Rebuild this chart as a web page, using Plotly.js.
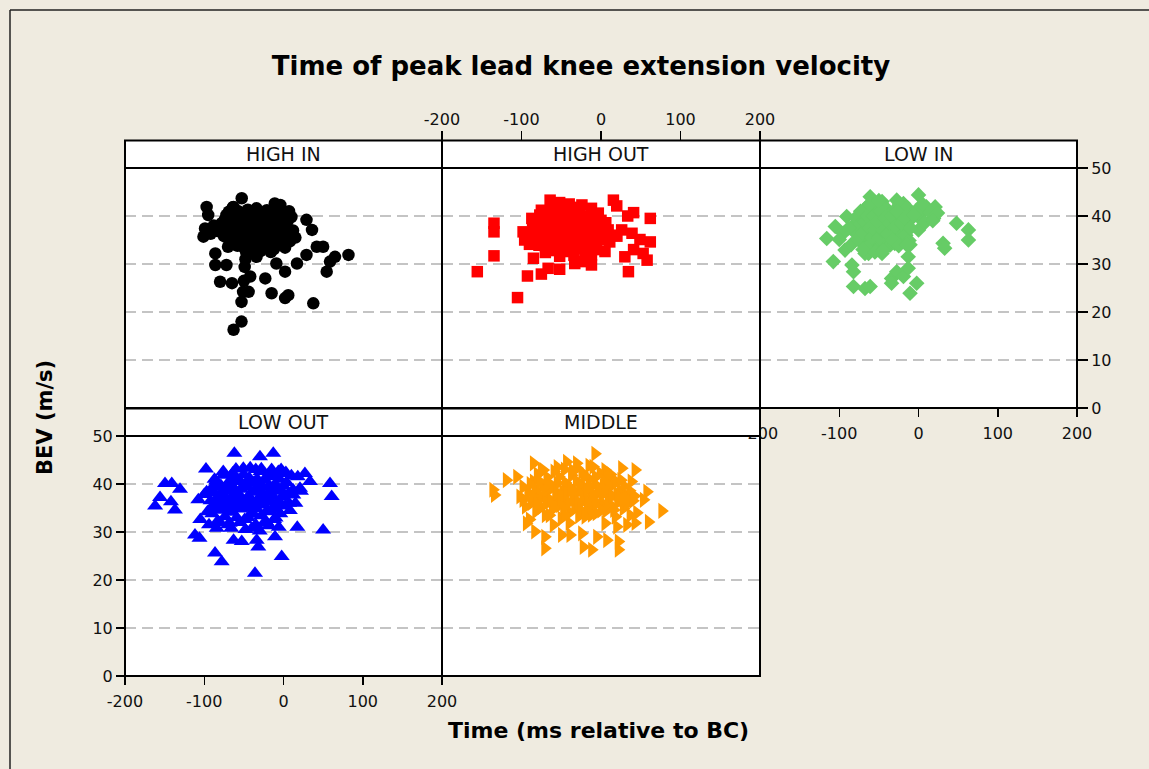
<!DOCTYPE html>
<html><head><meta charset="utf-8">
<script src="https://cdn.plot.ly/plotly-3.0.1.min.js"></script>
<style>html,body{margin:0;padding:0;background:#efebe0;} #chart{width:1149px;height:769px;}</style>
</head><body><div id="chart"></div>
<script>
// ---- data (time ms relative to BC, BEV m/s) ----
const panelNames = ["HIGH IN", "HIGH OUT", "LOW IN", "LOW OUT", "MIDDLE"];
const xTickVals = [-200, -100, 0, 100, 200];
const xTickLabels = ["-200", "-100", "0", "100", "200"];
const yTickVals = [0, 10, 20, 30, 40, 50];
const yTickLabels = ["0", "10", "20", "30", "40", "50"];

const highInPoints = [
 [-52.7,43.7],[-97,41.9],[-95,40.2],[-63,41.9],[-99,37.4],[-101,35.7],[-86,32.2],[-86,29.8],[-80,26.3],[-65,26],
 [-51,24.2],[-53,22.1],[-53,18],[-63,16.3],[-23,27],[-15,23.9],[2,22.9],[6,23.5],[37.6,21.8],[2,28.4],
 [-34,31.5],[54.5,28.4],[58.7,30.5],[65,31.5],[82,31.9],[42,33.6],[50,33.6],[29,31.9],[17,30.1],[29,39.2],
 [36,37.1],[-4,42.3],[-11,42.6],[-49,29.4],[-42,27.4],[-44,24.2],[-72,29.8],[-9,30.1],[-63,39.9],[-50,26.5],[-48,31],
 [-78,38.5],[-72,40.2],[-68,37.5],[-66,35.2],[-62,39.1],[-60,36.4],[-58,33.8],[-57,41.0],[-55,38.2],[-53,35.9],
 [-52,37.0],[-50,40.5],[-49,33.2],[-48,38.8],[-46,36.1],[-45,41.3],[-44,34.5],[-43,39.4],[-41,37.3],[-40,35.0],
 [-39,40.8],[-38,32.9],[-36,38.0],[-35,36.2],[-34,41.6],[-33,34.0],[-31,39.7],[-30,37.6],[-28,35.4],[-27,40.1],
 [-26,33.5],[-24,38.3],[-23,36.7],[-21,41.2],[-20,34.8],[-18,39.0],[-17,37.1],[-15,35.6],[-14,40.6],[-12,33.1],
 [-11,38.6],[-9,36.5],[-8,41.5],[-6,34.3],[-5,39.3],[-3,37.4],[-1,35.1],[1,40.0],[3,36.8],[5,38.9],
 [8,34.7],[10,39.8],[12,37.0],[15,35.5],[-75,35.8],[-70,33.6],[-64,41.8],[-47,32.4],[-29,32.7],[-16,32.5],
 [2,33.4],[-82,36.8],[-88,38.0],[-92,36.3],
 [-77,36.9],[-74,39.3],[-71,37.2],[-69,40.9],[-67,34.1],[-65,38.4],[-61,37.7],[-59,40.1],[-56,35.0],[-54,39.7],
 [-51,38.9],[-47,40.0],[-42,36.4],[-37,39.2],[-32,36.7],[-29,38.8],[-25,40.7],[-22,37.8],[-19,36.1],[-13,38.0],
 [-7,37.9],[-2,38.4],[4,35.8],[7,41.0],[11,36.2],[-58,35.7],[-44,32.9]
];

const highOutPoints = [
 [-155.6,28.4],[-134.6,38.5],[-134.6,36.7],[-134.6,31.7],[-105,23],[-92.5,27.5],[-75,27.9],[-66.5,29.1],[-85,31.2],[-52,28.9],
 [-33,30.1],[-12,29.8],[34.5,28.4],[30,31.5],[41,33],[58,30.8],[53,32.2],[62,34.6],[49,35.1],[39,36.4],
 [62,39.5],[41,40.7],[33.6,40],[15.6,43.3],[19.8,42.1],[9,37.1],[11,34.6],[26,37.1],[-7.6,34.3],[-98,36.7],
 [-96,35],[-64,43.3],[-52,42.8],[-24,42.3],[-12,41.6],[-3.4,40.6],[-87,39.5],[-77,40.2],[-12,31.9],[-24,30.5],
 [-85,37.8],[-82,35.6],[-80,39.2],[-78,33.9],[-76,36.8],[-74,40.5],[-72,34.6],[-70,38.1],[-68,36.0],[-66,41.0],
 [-65,32.8],[-63,39.6],[-61,35.2],[-60,37.4],[-58,33.6],[-56,40.3],[-55,36.5],[-53,38.7],[-51,34.3],[-50,41.5],
 [-48,37.0],[-47,35.5],[-45,39.8],[-44,32.6],[-42,38.2],[-41,36.1],[-39,40.7],[-38,34.0],[-36,37.6],[-35,35.1],
 [-33,39.1],[-32,33.2],[-30,38.0],[-29,36.3],[-27,40.2],[-26,34.8],[-24,37.3],[-23,35.7],[-21,39.4],[-20,33.5],
 [-18,38.5],[-17,36.6],[-15,40.0],[-14,34.5],[-12,37.8],[-10,35.9],[-8,39.0],[-6,33.0],[-4,36.9],[-2,38.4],
 [1,35.3],[3,37.2],[-88,36.2],[-90,34.1],[-58,42.0],[-40,42.5],[-34,31.8],[-52,31.6],[5,32.6],[14,36.0],[20,35.8],
 [-86,39.0],[-83,37.0],[-81,34.8],[-79,36.5],[-77,38.9],[-75,41.2],[-73,37.1],[-71,35.8],[-69,39.6],[-67,37.9],
 [-64,34.9],[-62,36.6],[-59,38.8],[-57,35.9],[-54,37.8],[-52,39.6],[-49,35.0],[-46,38.1],[-43,36.9],[-40,39.0],
 [-37,35.6],[-34,38.6],[-31,36.8],[-28,39.3],[-25,36.0],[-22,38.2],[-19,35.2],[-16,37.3],[-13,39.2],[-11,36.5],
 [-7,37.6],[-3,35.0],[0,39.1],[-62,42.6],[-46,42.1],[-28,41.8],[-55,33.4],[-37,32.9],[-20,32.2],[-70,32.4],
 [6,38.6],[10,35.7]
];

const lowInPoints = [
 [-115.8,35.3],[-105,37.8],[-92.7,32.9],[-107.5,30.5],[-84,29.8],[-82,28.4],[-82,25.3],[-67.5,24.9],[-61,25.3],[-63,32.2],
 [-46,32.2],[-34,27],[-27.5,28.4],[-34,26],[-19,27.4],[-13,31.5],[-13,29.1],[-10.7,23.9],[-2.3,26],[-10.7,34],
 [0,37.1],[31,34.3],[33,33.3],[48,38.5],[63,37.1],[63,35],[0,44.4],[-61,44],[10,41.9],[21,41.9],
 [19,39.5],[6,38.8],[-23,37.1],[-90.6,39.9],[-27.5,43.3],[-19,42.6],[-67.5,32.2],[-40,36],[-46,43],
 [-80,38.4],[-78,36.2],[-76,40.1],[-74,34.8],[-72,37.6],[-70,39.5],[-69,35.7],[-67,41.6],[-66,33.6],[-64,38.0],
 [-63,36.4],[-61,40.7],[-60,34.2],[-58,42.3],[-57,37.2],[-56,39.0],[-54,35.4],[-53,41.2],[-51,33.0],[-50,37.9],
 [-49,36.1],[-47,39.8],[-46,34.6],[-44,38.5],[-43,42.0],[-41,35.8],[-40,37.3],[-38,40.3],[-36,33.9],[-35,38.9],
 [-33,36.6],[-31,41.1],[-30,34.3],[-28,39.3],[-26,37.0],[-24,42.5],[-22,35.2],[-20,40.0],[-18,38.1],[-16,36.0],
 [-14,41.7],[-12,34.9],[-8,39.6],[-4,41.0],[2,40.4],[8,38.6],[14,40.8],[24,40.6],[-85,34.0],[-95,36.4],[-100,35.1],
 [-82,37.0],[-79,39.6],[-77,35.2],[-75,38.0],[-73,41.0],[-71,36.5],[-68,38.8],[-65,40.0],[-62,37.5],[-59,35.5],
 [-57,40.0],[-55,37.0],[-52,38.9],[-50,35.5],[-48,41.0],[-45,37.0],[-42,39.5],[-39,36.3],[-37,38.5],[-34,40.0],
 [-32,35.0],[-29,37.8],[-27,40.9],[-25,33.8],[-21,38.5],[-17,39.6],[-15,34.0],[-10,37.5],[-6,40.2],[-70,33.0],
 [-55,32.5],[-45,32.8],[-62,42.5],[-50,43.2],[5,42.5],[18,39.0],[-88,37.5]
];

const lowOutPoints = [
 [-62,46.4],[-29.7,45.7],[-12.9,46.4],[-97.8,43.1],[-149.5,40.1],[-141,40.1],[-130.6,38.9],[-155.8,37.2],[-162,35.4],[-142,36.3],
 [-137,34.6],[58.7,40.1],[60.8,37.4],[50,30.4],[17.4,31],[-2.3,24.9],[-36,21.4],[-86.4,25.6],[-78,23.8],[-111.7,29.4],
 [-106,28.7],[-105,32.6],[-63,28.3],[-52.7,28],[-31.8,26.9],[-33.8,28.3],[-10.7,29],[27,42.2],[33.4,40.5],[20.8,39.1],
 [12.4,37.7],[-97,38.4],[-107.5,36.7],[-84.3,30.8],[-40,30.8],[-6.5,42.6],[1.9,42.2],[-76,42.6],[-50.7,43.3],
 [-92,36.5],[-90,33.8],[-88,38.2],[-86,35.0],[-85,40.6],[-83,32.3],[-82,37.4],[-80,34.6],[-79,39.7],[-77,36.0],
 [-76,41.8],[-74,33.2],[-73,38.6],[-71,35.5],[-70,40.2],[-68,31.8],[-67,37.0],[-65,34.1],[-64,42.3],[-62,39.0],
 [-61,35.9],[-59,33.0],[-58,37.8],[-56,40.9],[-55,34.8],[-53,38.9],[-52,36.3],[-50,42.0],[-49,32.6],[-47,39.5],
 [-46,35.3],[-44,37.5],[-43,41.2],[-41,33.7],[-40,38.3],[-38,36.0],[-37,40.4],[-35,31.5],[-34,34.9],[-32,39.2],
 [-31,37.1],[-29,42.6],[-28,33.4],[-26,38.0],[-25,35.6],[-23,40.8],[-22,32.2],[-20,36.8],[-19,39.4],[-17,34.2],
 [-16,41.5],[-14,37.6],[-13,35.1],[-11,39.9],[-10,32.9],[-8,38.5],[-7,36.2],[-5,41.0],[-4,33.8],[-2,37.3],
 [0,39.6],[2,35.4],[4,40.3],[6,37.9],[8,34.5],[10,41.7],[-60,43.1],[-42,43.4],[-28,43.2],[-15,43.0],
 [-66,30.8],[-48,30.5],[-30,30.2],[-18,31.3],[-6,31.0],[12,38.8],[15,36.0],[-94,31.5],[-96,34.2],[-100,37.8],
 [-91,39.0],[-89,35.5],[-87,41.0],[-84,37.0],[-81,36.0],[-78,38.0],[-75,34.6],[-72,37.0],[-69,39.0],[-66,35.2],
 [-63,37.5],[-60,40.5],[-57,36.2],[-54,37.4],[-51,39.6],[-48,35.0],[-45,40.2],[-42,36.7],[-39,34.0],[-36,38.8],
 [-33,41.0],[-30,36.0],[-27,39.6],[-24,37.0],[-21,34.4],[-18,38.2],[-15,36.3],[-12,41.8],[-9,34.8],[-6,39.0],
 [-3,35.8],[1,37.8],[3,42.4],[7,36.0],[-80,32.0],[-70,31.5],[-55,32.0],[-45,33.0],[-25,31.8],[-12,32.6],
 [-86,39.5],[-65,41.0],[-35,43.0],[-20,41.8],[-3,43.0],[18,41.5],[22,38.5]
];

const middlePoints = [
 [-7.6,46.3],[-85,44.3],[42.9,42.9],[26,43.3],[-136,38.8],[-119,40.8],[-134,37.7],[76.6,34.4],[57.7,38.4],[59.7,32.1],
 [42.9,31.9],[-93.8,31.8],[-83.3,30.1],[-70.7,29],[-70.7,26.6],[-49.6,29.4],[-39,29.4],[-22.3,26.9],[-11.7,26.3],[21.8,26.3],
 [21.8,28],[7.2,28.3],[-5.4,29],[-24.3,29.7],[36.6,33.5],[53.4,36.7],[-106,41.5],[-72.8,42.9],[-43.3,44.6],[-30.7,44.3],
 [5,42.9],[-98,36.7],[-102,37.4],[19.8,31.1],[32.4,31.5],
 [-92,38.2],[-88,36.0],[-85,40.5],[-82,34.3],[-80,42.0],[-78,37.6],[-75,35.2],[-73,39.8],[-70,33.5],[-68,41.4],
 [-66,36.8],[-64,38.9],[-61,34.7],[-59,42.6],[-57,37.1],[-55,40.2],[-52,35.6],[-50,32.8],[-48,38.4],[-46,43.0],
 [-44,36.3],[-42,39.7],[-39,34.1],[-37,41.8],[-35,37.9],[-33,35.0],[-31,40.6],[-28,33.3],[-26,38.7],[-24,42.4],
 [-22,36.5],[-20,39.2],[-17,34.6],[-15,41.1],[-13,37.4],[-11,35.8],[-8,40.0],[-6,33.9],[-4,38.1],[-1,42.2],
 [1,36.1],[3,39.5],[6,34.4],[8,41.3],[10,37.3],[13,35.4],[15,39.9],[18,33.2],[20,38.0],[23,36.4],
 [25,40.8],[28,34.9],[30,37.7],[33,35.9],[36,38.6],[40,36.5],[45,34.0],[-95,35.3],[-98,39.4],[-90,32.6],
 [-30,43.3],[-10,43.6],[5,31.8],[-40,31.9],[-60,31.5],[12,42.0],
 [-89,40.0],[-86,37.5],[-83,39.0],[-80,35.8],[-77,40.5],[-74,37.2],[-71,38.5],[-69,36.0],[-66,40.0],[-63,36.6],
 [-60,39.5],[-58,35.4],[-55,38.2],[-53,41.5],[-50,37.0],[-47,35.0],[-45,40.3],[-43,38.0],[-40,36.2],[-38,39.0],
 [-36,42.8],[-34,36.9],[-32,38.3],[-29,36.2],[-27,40.0],[-25,34.5],[-23,37.5],[-21,41.5],[-18,38.7],[-16,36.0],
 [-14,39.5],[-12,33.6],[-9,37.8],[-7,41.5],[-5,36.0],[-2,39.0],[0,34.5],[2,37.9],[4,40.5],[7,38.5],
 [9,36.0],[11,39.5],[14,37.5],[16,34.6],[19,40.5],[21,36.8],[24,38.6],[27,36.9],[29,39.6],[32,37.0],
 [-65,33.5],[-45,33.5],[-20,33.2],[-75,42.8],[-55,43.5],[-15,43.8],[38,40.5],[42,37.5]
];

// ---- styling / layout ----
const W = 1149, H = 769;
const px = v => v / W;
const py = v => 1 - v / H;
const FONT = "DejaVu Sans";
const cols = [[125, 442], [442, 760], [760, 1077]];
const rows = [[168, 408], [436, 676]];
const stripH = 0.1146;

const groups = [
  {pts: highInPoints,  sym: "circle",         size: 12.5, color: "#000000", xa: "x",  ya: "y"},
  {pts: highOutPoints, sym: "square",         size: 11.5, color: "#ff0000", xa: "x2", ya: "y2"},
  {pts: lowInPoints,   sym: "diamond",        size: 12,   color: "#66cc66", xa: "x3", ya: "y3"},
  {pts: lowOutPoints,  sym: "triangle-up",    size: 14,   color: "#0000ff", xa: "x4", ya: "y4"},
  {pts: middlePoints,  sym: "triangle-right", size: 14,   color: "#ff9900", xa: "x5", ya: "y5"}
];

const traces = groups.map((g, i) => ({
  type: "scatter", mode: "markers", name: panelNames[i],
  x: g.pts.map(p => p[0]), y: g.pts.map(p => p[1]),
  xaxis: g.xa, yaxis: g.ya,
  marker: {symbol: g.sym, size: g.size, color: g.color, line: {width: 0}},
  hoverinfo: "x+y", showlegend: false
}));

const tickFont = {family: FONT, size: 16, color: "#111"};

function xax(col, anchor, extra) {
  return Object.assign({
    domain: [px(cols[col][0]), px(cols[col][1])], anchor: anchor, range: [-200, 200],
    showgrid: false, zeroline: false, showline: false, ticks: "", showticklabels: false,
    tickmode: "array", tickvals: xTickVals, ticktext: xTickLabels, tickfont: tickFont,
    tickcolor: "#000", tickwidth: 1.5, fixedrange: true
  }, extra || {});
}
function yax(row, anchor, extra) {
  return Object.assign({
    domain: [py(rows[row][1]), py(rows[row][0])], anchor: anchor, range: [0, 50],
    showgrid: true, gridcolor: "#c4c4c4", gridwidth: 1.5, griddash: "11px,6px",
    zeroline: false, showline: false, ticks: "", showticklabels: false,
    tickmode: "array", tickvals: yTickVals, ticktext: yTickLabels, tickfont: tickFont,
    tickcolor: "#000", tickwidth: 1.5, fixedrange: true
  }, extra || {});
}
const xTicksOn = {ticks: "outside", ticklen: 8, showticklabels: true, ticklabelstandoff: 3};
const yTicksOn = {ticks: "outside", ticklen: 8, showticklabels: true};

const shapes = [];
const annotations = [];
const axPairs = [["x", "y"], ["x2", "y2"], ["x3", "y3"], ["x4", "y4"], ["x5", "y5"]];
axPairs.forEach((ap, i) => {
  shapes.push({type: "rect", xref: ap[0] + " domain", yref: ap[1] + " domain",
    x0: 0, x1: 1, y0: 0, y1: 1, line: {color: "#000", width: 2}, fillcolor: "rgba(0,0,0,0)", layer: "above"});
  shapes.push({type: "rect", xref: ap[0] + " domain", yref: ap[1] + " domain",
    x0: 0, x1: 1, y0: 1, y1: 1 + stripH, line: {color: "#000", width: 2}, fillcolor: "#ffffff", layer: "above"});
  annotations.push({xref: ap[0] + " domain", yref: ap[1] + " domain", x: 0.5, y: 1 + stripH / 2,
    xanchor: "center", yanchor: "middle", showarrow: false, text: panelNames[i],
    font: {family: FONT, size: 19, color: "#111"}});
});
// outer frame of the graph window
shapes.push({type: "line", xref: "paper", yref: "paper", x0: px(10), x1: 1, y0: py(10), y1: py(10), line: {color: "#222", width: 1.5}});
shapes.push({type: "line", xref: "paper", yref: "paper", x0: px(10), x1: px(10), y0: py(10), y1: 0, line: {color: "#222", width: 1.5}});

annotations.push({xref: "paper", yref: "paper", x: px(598), y: py(730), xanchor: "center", yanchor: "middle",
  showarrow: false, text: "<b>Time (ms relative to BC)</b>", font: {family: FONT, size: 22, color: "#000"}});
annotations.push({xref: "paper", yref: "paper", x: px(45), y: py(418), xanchor: "center", yanchor: "middle",
  showarrow: false, textangle: -90, text: "<b>BEV (m/s)</b>", font: {family: FONT, size: 21, color: "#000"}});

const layout = {
  width: W, height: H,
  margin: {l: 0, r: 0, t: 0, b: 0, pad: 0},
  paper_bgcolor: "#efebe0", plot_bgcolor: "#ffffff",
  title: {text: "<b>Time of peak lead knee extension velocity</b>", x: px(581), y: py(66),
    xref: "paper", yref: "paper", xanchor: "center", yanchor: "middle",
    font: {family: FONT, size: 26, color: "#000"}},
  showlegend: false,
  xaxis:  xax(0, "y"),
  yaxis:  yax(0, "x"),
  xaxis2: xax(1, "free", Object.assign({}, xTicksOn, {side: "top", position: py(141), ticklen: 10, ticklabelstandoff: 0})),
  yaxis2: yax(0, "x2"),
  xaxis3: xax(2, "y3", xTicksOn),
  yaxis3: yax(0, "x3", Object.assign({}, yTicksOn, {side: "right", ticklen: 10})),
  xaxis4: xax(0, "y4", xTicksOn),
  yaxis4: yax(1, "x4", yTicksOn),
  xaxis5: xax(1, "y5"),
  yaxis5: yax(1, "x5"),
  shapes: shapes,
  annotations: annotations
};

Plotly.newPlot("chart", traces, layout, {displayModeBar: false, staticPlot: true});
</script>
</body></html>
